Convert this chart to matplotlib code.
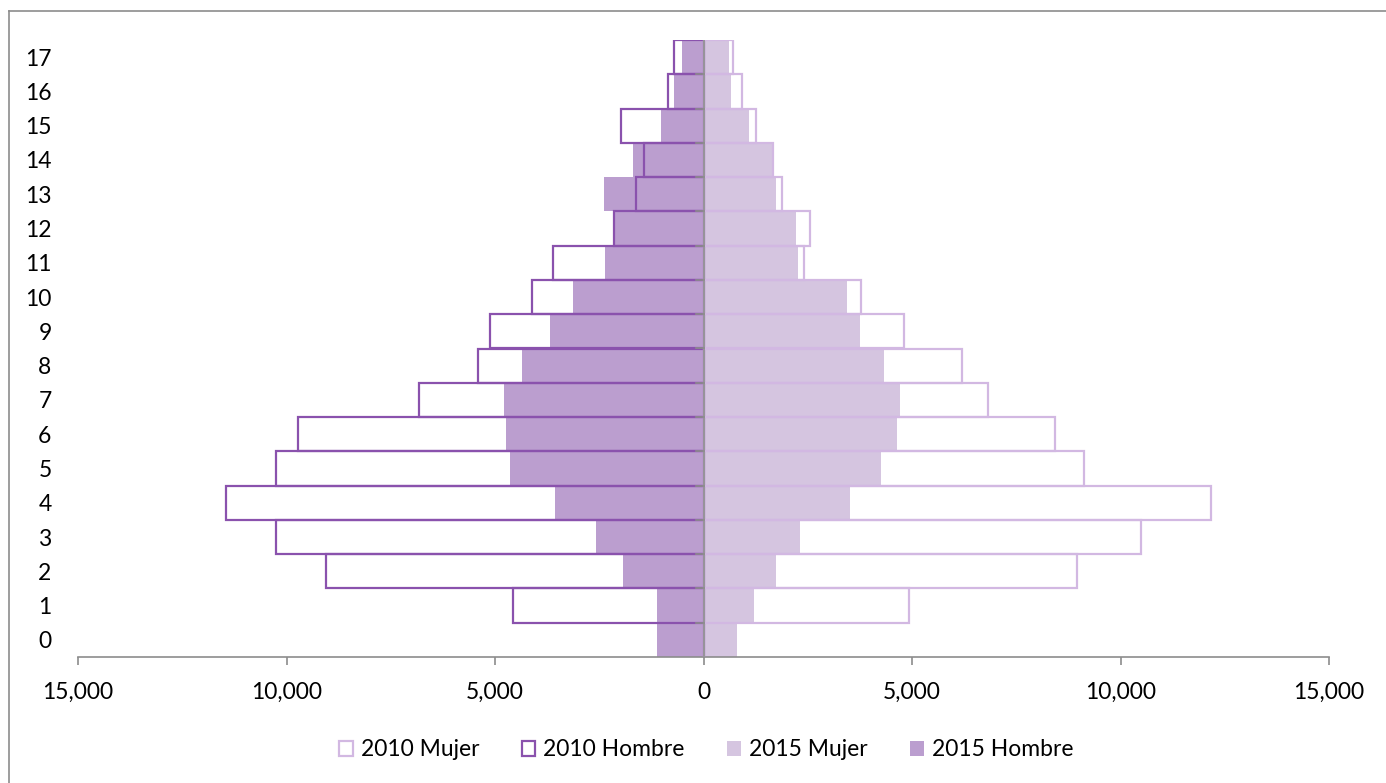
import matplotlib
matplotlib.use("Agg")
import matplotlib.pyplot as plt
from matplotlib.patches import Patch
from matplotlib.lines import Line2D
from matplotlib.ticker import FuncFormatter

plt.rcParams["font.family"] = ["Lato", "DejaVu Sans"]

# grupos de edad (0..17) y población por sexo
edades = list(range(18))
hombre_2010 = [0, 4580, 9050, 10250, 11440, 10250, 9720, 6820, 5410, 5110,
               4110, 3600, 2140, 1610, 1430, 1990, 860, 710]
mujer_2010 = [0, 4930, 8950, 10480, 12170, 9130, 8430, 6830, 6200, 4810,
              3780, 2410, 2560, 1890, 1670, 1260, 920, 700]
hombre_2015 = [1120, 1120, 1920, 2580, 3570, 4630, 4730, 4780, 4350, 3690,
               3140, 2370, 2120, 2380, 1680, 1030, 700, 520]
mujer_2015 = [810, 1210, 1730, 2310, 3520, 4250, 4650, 4720, 4330, 3750,
              3440, 2260, 2210, 1740, 1680, 1100, 650, 610]

x_ticks = [-15000, -10000, -5000, 0, 5000, 10000, 15000]

C_H15 = "#bb9ecf"
C_M15 = "#d5c5e0"
C_H10 = "#8a52ad"
C_M10 = "#d2b8e2"
GRIS = "#8c8c8c"
FS = 16.5

fig = plt.figure(figsize=(13.86, 7.83), dpi=100)
ax = fig.add_axes([78 / 1386, 1 - 657 / 783, (1329 - 78) / 1386, (657 - 40) / 783])

# 2015: barras rellenas
ax.barh(edades, [-v for v in hombre_2015], height=1.0, color=C_H15, linewidth=0, zorder=2)
ax.barh(edades, mujer_2015, height=1.0, color=C_M15, linewidth=0, zorder=2)
# 2010: solo contorno, encima
ax.barh(edades, [-v for v in hombre_2010], height=1.0, facecolor="none",
        edgecolor=C_H10, linewidth=1.6, zorder=3)
ax.barh(edades, mujer_2010, height=1.0, facecolor="none",
        edgecolor=C_M10, linewidth=1.6, zorder=3)

ax.set_xlim(-15000, 15000)
ax.set_ylim(-0.5, 17.5)

# eje vertical en cero con marcas entre categorías
ax.axvline(0, color=GRIS, linewidth=1.2, zorder=4)
for k in edades[1:]:
    ax.plot([-190, 0], [k - 0.5, k - 0.5], color=GRIS, linewidth=1.2, zorder=4)

for s in ("left", "right", "top"):
    ax.spines[s].set_visible(False)
ax.spines["bottom"].set_color(GRIS)
ax.spines["bottom"].set_linewidth(1.2)

ax.set_xticks(x_ticks)
ax.xaxis.set_major_formatter(FuncFormatter(lambda v, p: f"{abs(v):,.0f}"))
ax.tick_params(axis="x", direction="out", length=6, width=1.2, color=GRIS,
               labelsize=FS, pad=12)
ax.set_yticks(edades)
ax.set_yticklabels([str(e) for e in edades])
ax.tick_params(axis="y", length=0, labelsize=FS, pad=19)

handles = [
    Patch(facecolor="white", edgecolor=C_M10, linewidth=1.6, label="2010 Mujer"),
    Patch(facecolor="white", edgecolor=C_H10, linewidth=1.6, label="2010 Hombre"),
    Patch(facecolor=C_M15, edgecolor="none", label="2015 Mujer"),
    Patch(facecolor=C_H15, edgecolor="none", label="2015 Hombre"),
]
fig.legend(handles=handles, loc="center", bbox_to_anchor=(706 / 1386, 1 - 750 / 783),
           ncol=4, frameon=False, fontsize=FS, handlelength=0.6, handleheight=0.6,
           handletextpad=0.35, columnspacing=1.85)

# marco del gráfico
fig.add_artist(Line2D([8.5 / 1386, 8.5 / 1386], [0, 1 - 11 / 783], color=GRIS,
                      linewidth=1.2, transform=fig.transFigure))
fig.add_artist(Line2D([8.5 / 1386, 1], [1 - 11 / 783, 1 - 11 / 783], color=GRIS,
                      linewidth=1.2, transform=fig.transFigure))

fig.savefig("out.png", dpi=100)
